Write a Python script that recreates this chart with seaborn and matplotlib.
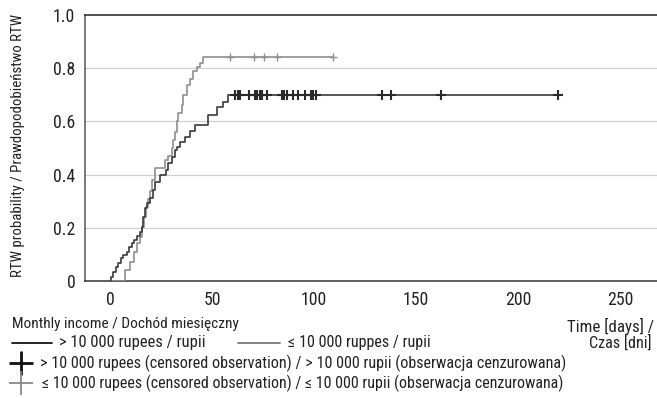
import numpy as np
import pandas as pd
import matplotlib
matplotlib.use("Agg")
import matplotlib.pyplot as plt
from matplotlib.lines import Line2D
from matplotlib import font_manager as fm
import seaborn as sns

# ---- data ----
dark_days = [0, 0.5, 1.6, 2.9, 4.1, 5.2, 6.5, 8.2, 9.5, 10.6,
             11.8, 13.1, 14.7, 15.5, 16.3, 17.2, 18.0, 19.6, 20.9, 22.1,
             24.5, 27.5, 28.6, 30.2, 31.9, 32.7, 34.3, 36.8, 39.2, 41.7,
             48.2, 52.3, 55.6, 58.0]
dark_prob = [0, 0.016, 0.035, 0.054, 0.066, 0.085, 0.098, 0.11, 0.129, 0.142,
             0.154, 0.169, 0.185, 0.204, 0.242, 0.273, 0.292, 0.311, 0.342, 0.373,
             0.398, 0.417, 0.442, 0.467, 0.492, 0.505, 0.524, 0.542, 0.565, 0.586,
             0.624, 0.655, 0.674, 0.70]
dark_censor = [61.5, 62.5, 63.5, 68.1, 71.1, 72.2, 73.5, 74.3, 77.1, 84.2, 85.3,
               86.6, 89.5, 92.3, 95.6, 98.5, 99.7, 100.8, 133.2, 137.6, 162.1, 219.8]

light_days = [0, 7.5, 9.6, 11.8, 13.4, 14.5, 15.7, 16.5, 17.5, 18.5,
              19.6, 20.5, 22.1, 27.0, 28.6, 30.2, 31.0, 31.9, 32.7, 33.5,
              35.1, 35.9, 37.6, 39.2, 40.8, 42.5, 44.1, 45.4]
light_prob = [0, 0.041, 0.073, 0.11, 0.142, 0.167, 0.204, 0.24, 0.28, 0.31,
              0.34, 0.38, 0.424, 0.455, 0.47, 0.50, 0.53, 0.56, 0.60, 0.63,
              0.66, 0.70, 0.737, 0.76, 0.79, 0.806, 0.82, 0.843]
light_censor = [58.8, 70.6, 75.6, 81.7, 109.5]

x_ticks = [0, 50, 100, 150, 200, 250]
y_ticks = [0, 0.2, 0.4, 0.6, 0.8, 1.0]
y_ticklabels = ["0", "0.2", "0.4", "0.6", "0.8", "1.0"]

DARK = "#3a3a3a"
LIGHT = "#8f8f8f"
TXT = "#222222"

sns.set_style("white")

# ---- pick a narrow font if one is installed ----
_fonts = fm.fontManager.ttflist
_names = {f.name for f in _fonts}
FONT = None
STRETCH = "normal"
for cand in ["Liberation Sans Narrow", "Roboto Condensed", "Arial Narrow",
             "Nimbus Sans Narrow", "Open Sans Condensed", "Noto Sans Condensed",
             "DejaVu Sans Condensed"]:
    if cand in _names:
        FONT = cand
        break
if FONT is None:
    for f in _fonts:
        if f.name in ("DejaVu Sans", "Noto Sans", "Open Sans") and str(f.stretch) in (
                "condensed", "semi-condensed", "extra-condensed", "500", "600", "700"):
            FONT = f.name
            STRETCH = "condensed"
            break
if FONT is None:
    FONT = "Roboto" if "Roboto" in _names else "Liberation Sans"

plt.rcParams["font.family"] = [FONT, "DejaVu Sans"]
plt.rcParams["font.stretch"] = STRETCH

W, H = 657, 398
fig = plt.figure(figsize=(W / 100, H / 100), dpi=100)
ax = fig.add_axes([85 / W, 1 - 281 / H, (657 - 85) / W, (281 - 15) / H])
renderer = fig.canvas.get_renderer()


def fit_size(s, target_px, rotation=0):
    t = fig.text(0, 0, s, fontsize=10, rotation=rotation)
    bb = t.get_window_extent(renderer=renderer)
    t.remove()
    extent = bb.height if rotation else bb.width
    return 10 * target_px / extent


def curve_df(days, prob, censor):
    d = list(days) + [max(censor)]
    p = list(prob) + [prob[-1]]
    return pd.DataFrame({"day": d, "prob": p})


dark_df = curve_df(dark_days, dark_prob, dark_censor)
light_df = curve_df(light_days, light_prob, light_censor)

for yv in y_ticks[1:-1]:
    ax.axhline(yv, color="#d0d0d0", lw=0.9, zorder=0)

sns.lineplot(data=light_df, x="day", y="prob", drawstyle="steps-post",
             color=LIGHT, lw=1.2, estimator=None, sort=False, ax=ax, zorder=3)
sns.lineplot(data=dark_df, x="day", y="prob", drawstyle="steps-post",
             color=DARK, lw=1.2, estimator=None, sort=False, ax=ax, zorder=4)

sns.scatterplot(x=light_censor, y=[light_prob[-1]] * len(light_censor), marker="+",
                s=40, color=LIGHT, linewidth=1.0, ax=ax, zorder=5)
sns.scatterplot(x=dark_censor, y=[dark_prob[-1]] * len(dark_censor), marker="+",
                s=45, color="#2a2a2a", linewidth=1.5, ax=ax, zorder=6)

ax.set_xlim((85 - 110) / 2.04, (657 - 110) / 2.04)
ax.set_ylim(0, 1.0)
ax.set_xticks(x_ticks)
ax.set_yticks(y_ticks)
ax.set_yticklabels(y_ticklabels)
tick_size = max(fit_size("1.0", 21), fit_size("250", 26))
ax.tick_params(axis="both", direction="out", length=5, width=1, color="#444444",
               labelsize=tick_size, labelcolor=TXT, pad=2)
ax.set_xlabel("")
ylab = "RTW probability / Prawdopodobieństwo RTW"
ax.set_ylabel(ylab, fontsize=fit_size(ylab, 262, rotation=90), color=TXT)
ax.yaxis.set_label_coords((25 - 85) / (657 - 85), 0.5 + (148 - 145) / 266)

for side in ["left", "bottom", "top"]:
    ax.spines[side].set_visible(True)
    ax.spines[side].set_linewidth(1.1)
ax.spines["left"].set_color("#555555")
ax.spines["bottom"].set_color("#333333")
ax.spines["top"].set_color("#222222")
ax.spines["right"].set_visible(False)
ax.grid(False)


def fy(y):
    return 1 - y / H


def fx(x):
    return x / W


# x-axis title at the right
t1 = "Time [days] /"
t2 = "Czas [dni]"
fig.text(fx(654), fy(326), t1, ha="right", va="center", fontsize=fit_size(t1, 86), color=TXT)
fig.text(fx(652), fy(343), t2, ha="right", va="center", fontsize=fit_size(t2, 62), color=TXT)

# ---- legend (drawn below the axes) ----
leg_title = "Monthly income / Dochód miesięczny"
lab_hi = "> 10 000 rupees / rupii"
lab_lo = "≤ 10 000 ruppes / rupii"
lab_hi_c = "> 10 000 rupees (censored observation) / > 10 000 rupii (obserwacja cenzurowana)"
lab_lo_c = "≤ 10 000 rupees (censored observation) / ≤ 10 000 rupii (obserwacja cenzurowana)"

k = 1.04
fig.text(fx(12), fy(324), leg_title, ha="left", va="center",
         fontsize=k * fit_size(leg_title, 218), color=TXT)
fig.add_artist(Line2D([fx(12), fx(52)], [fy(343), fy(343)], color="#111111", lw=1.3))
fig.text(fx(59), fy(343), lab_hi, ha="left", va="center",
         fontsize=k * fit_size(lab_hi, 139), color=TXT)
fig.add_artist(Line2D([fx(238), fx(280)], [fy(343), fy(343)], color="#777777", lw=1.3))
fig.text(fx(288), fy(343), lab_lo, ha="left", va="center",
         fontsize=k * fit_size(lab_lo, 136), color=TXT)

fig.add_artist(Line2D([fx(21)], [fy(363)], marker="+", markersize=17, mew=2.0,
                      color="#111111", ls="none"))
fig.text(fx(40), fy(363), lab_hi_c, ha="left", va="center",
         fontsize=k * fit_size(lab_hi_c, 502), color=TXT)
fig.add_artist(Line2D([fx(21)], [fy(383)], marker="+", markersize=17, mew=1.3,
                      color="#888888", ls="none"))
fig.text(fx(42), fy(383), lab_lo_c, ha="left", va="center",
         fontsize=k * fit_size(lab_lo_c, 500), color=TXT)

fig.savefig("out.png", dpi=100)
